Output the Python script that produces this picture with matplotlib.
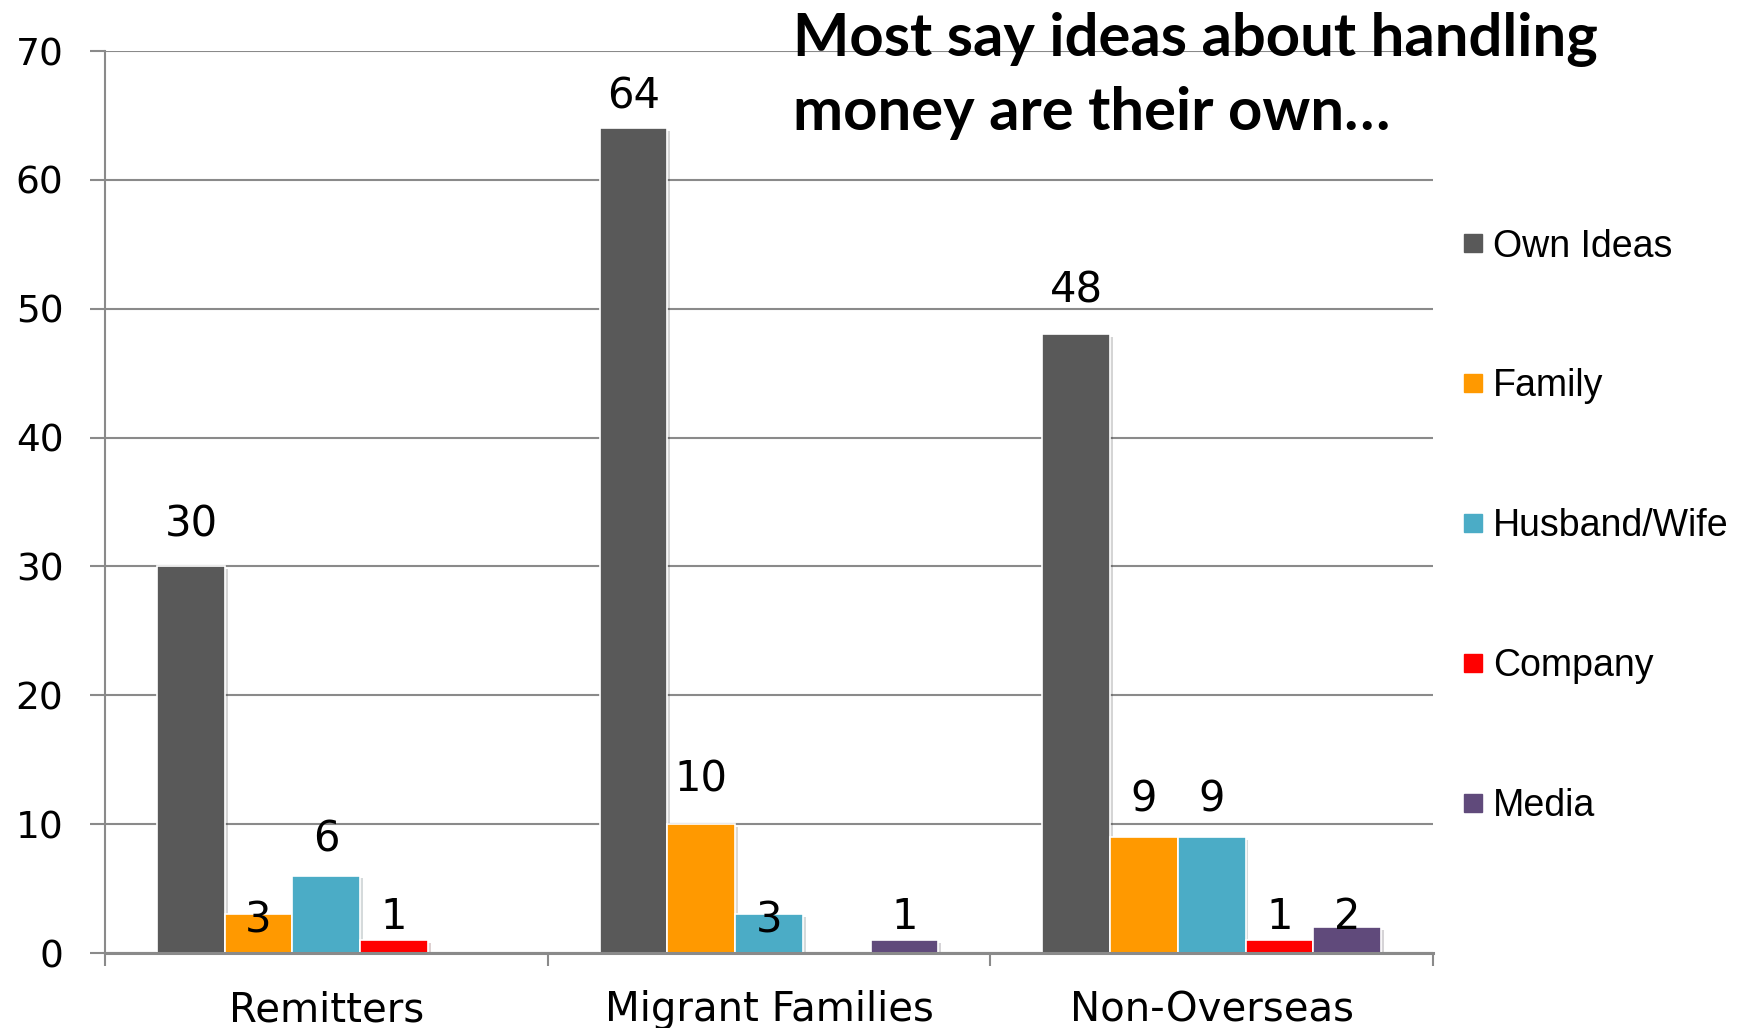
import numpy as np
import matplotlib
matplotlib.use("Agg")
import matplotlib.pyplot as plt
import matplotlib.patheffects as pe
from matplotlib.lines import Line2D

# Survey answers: where ideas about handling money come from
groups = ["Remitters", "Migrant Families", "Non-Overseas"]
sources = ["Own Ideas", "Family", "Husband/Wife", "Company", "Media"]
own_ideas = [30, 64, 48]
family = [3, 10, 9]
husband_wife = [6, 3, 9]
company = [1, 0, 1]
media = [0, 1, 2]
series = [own_ideas, family, husband_wife, company, media]
colors = ["#595959", "#FF9900", "#4BACC6", "#FF0000", "#604A7B"]

# baseline of each value label above its bar top (data units)
label_lift = [
    [2.3, 1.5, 2.5],
    [-1.4, 2.5, 2.0],
    [1.9, -1.4, 2.0],
    [0.9, 0.9, 0.9],
    [0.9, 0.9, -0.1],
]

title_lines = ["Most say ideas about handling", "money are their own\u2026"]

fig = plt.figure(figsize=(17.42, 10.28), dpi=100)
ax = fig.add_axes([105 / 1742, 1 - 953 / 1028, (1433 - 105) / 1742, (953 - 51) / 1028])

x = np.arange(len(groups))
bar_w = 0.153
shadow = [pe.SimplePatchShadow(offset=(2, -2), alpha=0.18), pe.Normal()]

for j, (vals, col) in enumerate(zip(series, colors)):
    pos = x + (j - 2) * bar_w
    bars = ax.bar(pos, vals, width=bar_w, color=col, edgecolor="white",
                  linewidth=1.2, zorder=3)
    for b, v in zip(bars, vals):
        if v == 0:
            b.set_visible(False)
            continue
        b.set_path_effects(shadow)
    for i, (p, v) in enumerate(zip(pos, vals)):
        if v == 0:
            continue
        ax.text(p, v + label_lift[j][i], str(v), ha="center", va="baseline",
                fontsize=30, family="DejaVu Sans", zorder=5)

ax.set_xlim(-0.5, 2.5)
ax.set_ylim(0, 70)
ax.set_yticks(range(0, 71, 10))
ax.yaxis.grid(True, color="#8a8a8a", linewidth=1.5, zorder=0)
ax.set_axisbelow(True)

for s in ["top", "right"]:
    ax.spines[s].set_visible(False)
ax.spines["left"].set_color("#8a8a8a")
ax.spines["left"].set_linewidth(1.5)
ax.spines["bottom"].set_color("#8a8a8a")
ax.spines["bottom"].set_linewidth(2.2)
ax.spines["bottom"].set_zorder(4)

ax.tick_params(axis="y", length=11, width=1.5, color="#8a8a8a", pad=19,
               labelsize=27)
# tick marks at the category boundaries, names placed under the centres
ax.set_xticks([-0.5, 0.5, 1.5, 2.5])
ax.set_xticklabels([])
ax.tick_params(axis="x", length=9, width=1.5, color="#8a8a8a")
for i, g in enumerate(groups):
    ax.text(i, -0.0754, g, transform=ax.get_xaxis_transform(), ha="center",
            va="baseline", fontsize=29, family="DejaVu Sans")

handles = [Line2D([], [], linestyle="none", marker="s", markersize=12.5,
                  markerfacecolor=c, markeredgecolor=c) for c in colors]
fig.legend(handles, sources, loc="center left", bbox_to_anchor=(0.829, 0.488),
           frameon=False, prop={"family": "Liberation Sans", "size": 27},
           handlelength=0.55, handletextpad=0.25, labelspacing=2.77, borderpad=0)

for k, line in enumerate(title_lines):
    fig.text(793 / 1742, 1 - (56 + 74 * k) / 1028, line, ha="left",
             va="baseline", fontsize=43, fontweight="bold", family="Lato",
             zorder=10)

fig.savefig("out.png", dpi=100)
